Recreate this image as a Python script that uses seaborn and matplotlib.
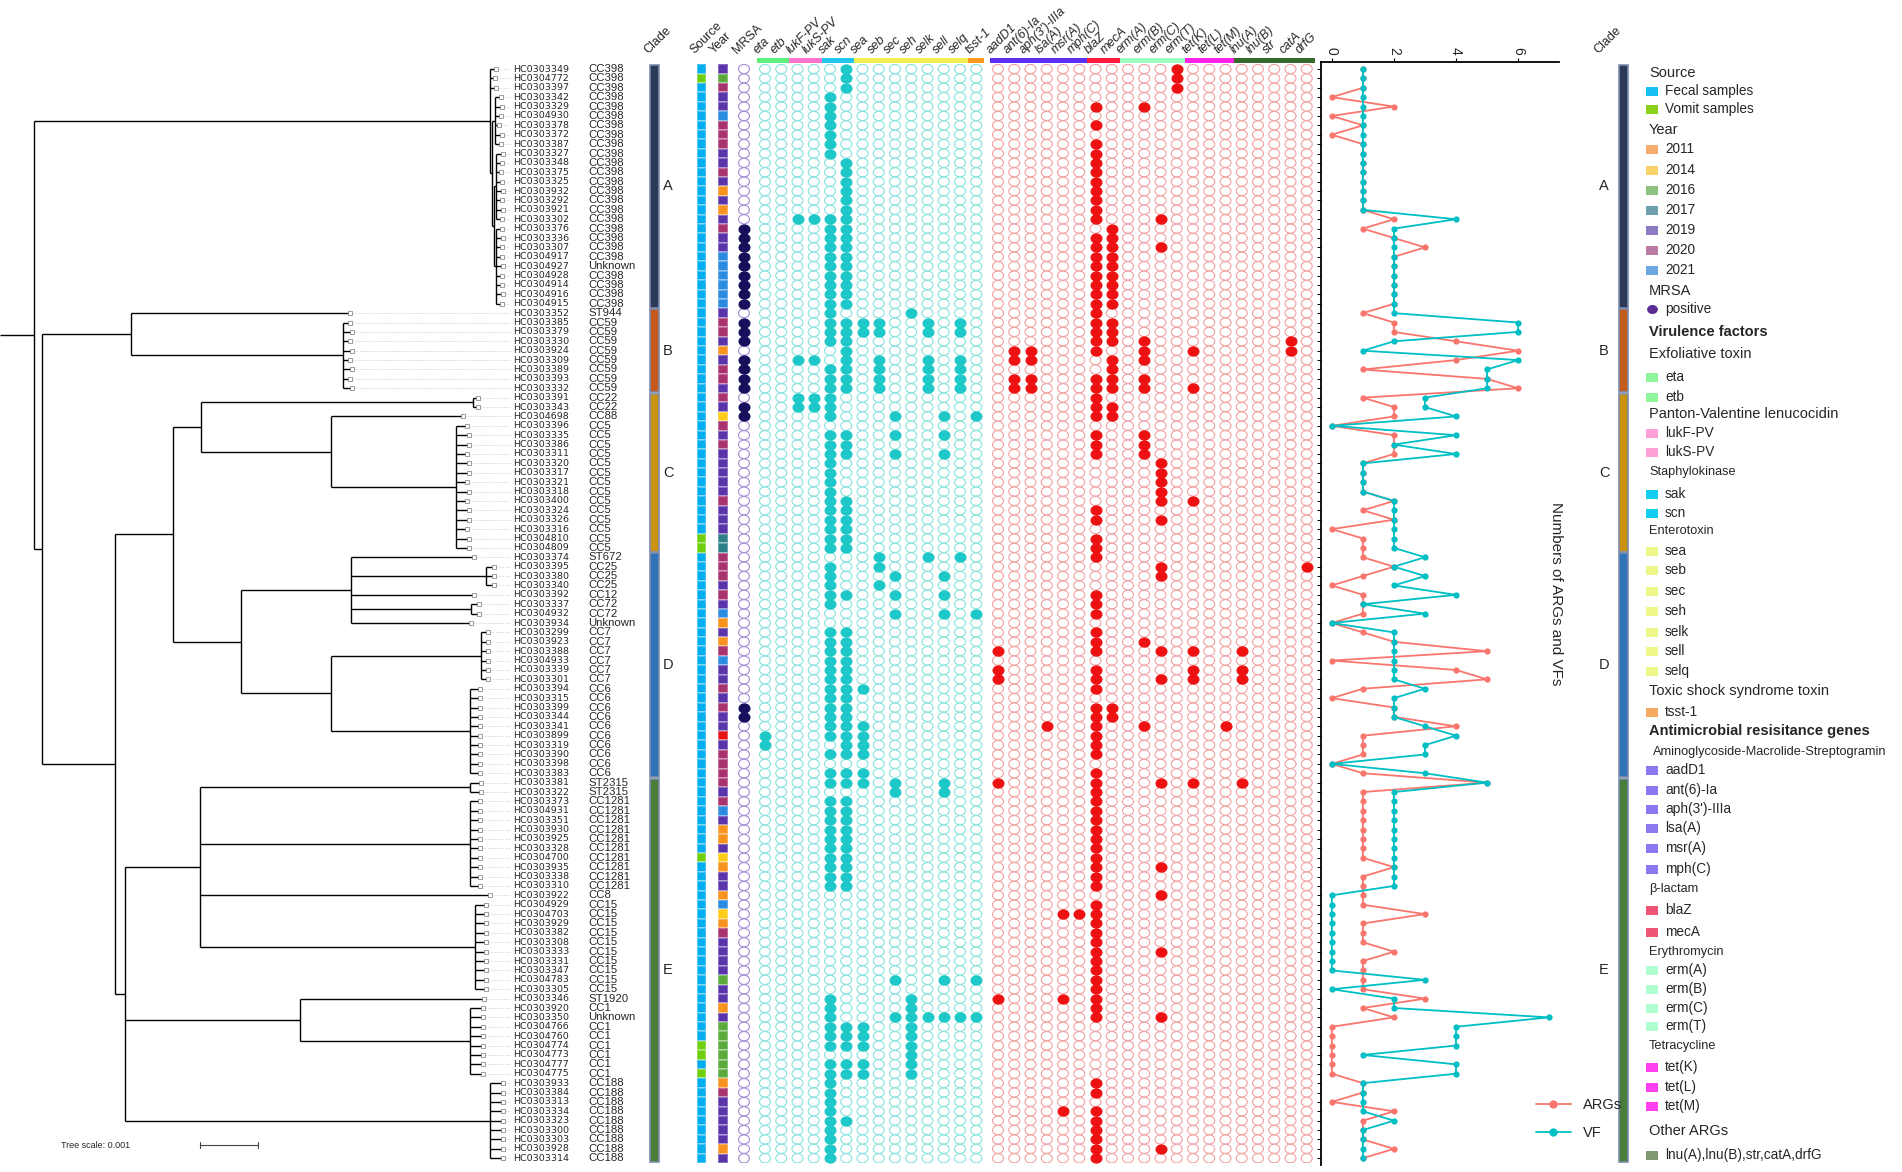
import numpy as np
import pandas as pd
import matplotlib
matplotlib.use("Agg")
import matplotlib.pyplot as plt
from matplotlib.colors import ListedColormap
from matplotlib.lines import Line2D
from matplotlib.path import Path
import seaborn as sns

# ---------------- data ----------------
sample_ids = [
    "HC0303349", "HC0304772", "HC0303397", "HC0303342", "HC0303329", "HC0304930", "HC0303378", "HC0303372", "HC0303387", "HC0303327",
    "HC0303348", "HC0303375", "HC0303325", "HC0303932", "HC0303292", "HC0303921", "HC0303302", "HC0303376", "HC0303336", "HC0303307",
    "HC0304917", "HC0304927", "HC0304928", "HC0304914", "HC0304916", "HC0304915", "HC0303352", "HC0303385", "HC0303379", "HC0303330",
    "HC0303924", "HC0303309", "HC0303389", "HC0303393", "HC0303332", "HC0303391", "HC0303343", "HC0304698", "HC0303396", "HC0303335",
    "HC0303386", "HC0303311", "HC0303320", "HC0303317", "HC0303321", "HC0303318", "HC0303400", "HC0303324", "HC0303326", "HC0303316",
    "HC0304810", "HC0304809", "HC0303374", "HC0303395", "HC0303380", "HC0303340", "HC0303392", "HC0303337", "HC0304932", "HC0303934",
    "HC0303299", "HC0303923", "HC0303388", "HC0304933", "HC0303339", "HC0303301", "HC0303394", "HC0303315", "HC0303399", "HC0303344",
    "HC0303341", "HC0303899", "HC0303319", "HC0303390", "HC0303398", "HC0303383", "HC0303381", "HC0303322", "HC0303373", "HC0304931",
    "HC0303351", "HC0303930", "HC0303925", "HC0303328", "HC0304700", "HC0303935", "HC0303338", "HC0303310", "HC0303922", "HC0304929",
    "HC0304703", "HC0303929", "HC0303382", "HC0303308", "HC0303333", "HC0303331", "HC0303347", "HC0304783", "HC0303305", "HC0303346",
    "HC0303920", "HC0303350", "HC0304766", "HC0304760", "HC0304774", "HC0304773", "HC0304777", "HC0304775", "HC0303933", "HC0303384",
    "HC0303313", "HC0303334", "HC0303323", "HC0303300", "HC0303303", "HC0303928", "HC0303314",
]

st_types = [
    "CC398", "CC398", "CC398", "CC398", "CC398", "CC398", "CC398", "CC398", "CC398", "CC398",
    "CC398", "CC398", "CC398", "CC398", "CC398", "CC398", "CC398", "CC398", "CC398", "CC398",
    "CC398", "Unknown", "CC398", "CC398", "CC398", "CC398", "ST944", "CC59", "CC59", "CC59",
    "CC59", "CC59", "CC59", "CC59", "CC59", "CC22", "CC22", "CC88", "CC5", "CC5",
    "CC5", "CC5", "CC5", "CC5", "CC5", "CC5", "CC5", "CC5", "CC5", "CC5",
    "CC5", "CC5", "ST672", "CC25", "CC25", "CC25", "CC12", "CC72", "CC72", "Unknown",
    "CC7", "CC7", "CC7", "CC7", "CC7", "CC7", "CC6", "CC6", "CC6", "CC6",
    "CC6", "CC6", "CC6", "CC6", "CC6", "CC6", "ST2315", "ST2315", "CC1281", "CC1281",
    "CC1281", "CC1281", "CC1281", "CC1281", "CC1281", "CC1281", "CC1281", "CC1281", "CC8", "CC15",
    "CC15", "CC15", "CC15", "CC15", "CC15", "CC15", "CC15", "CC15", "CC15", "ST1920",
    "CC1", "Unknown", "CC1", "CC1", "CC1", "CC1", "CC1", "CC1", "CC188", "CC188",
    "CC188", "CC188", "CC188", "CC188", "CC188", "CC188", "CC188",
]

clade_names = ["A", "B", "C", "D", "E"]
clade_sizes = [26, 9, 17, 24, 41]

# F = fecal, V = vomit
source_code = ("FVFFFFFFFF" "FFFFFFFFFF" "FFFFFFFFFF" "FFFFFFFFFF" "FFFFFFFFFF"
               "VVFFFFFFFF" "FFFFFFFFFF" "FFFFFFFFFF" "FFFFVFFFFF" "FFFFFFFFFF"
               "FFFFVVFVFF" "FFFFFFF")

# 0 = cell drawn in red, not listed in the legend
years = [
    2019, 2016, 2020, 2019, 2019, 2021, 2020, 2020, 2020, 2019,
    2019, 2020, 2019, 2011, 2019, 2011, 2019, 2020, 2019, 2019,
    2021, 2021, 2021, 2021, 2021, 2021, 2019, 2020, 2020, 2019,
    2011, 2019, 2020, 2020, 2019, 2020, 2019, 2014, 2020, 2019,
    2020, 2019, 2019, 2019, 2019, 2019, 2020, 2019, 2019, 2019,
    2017, 2017, 2020, 2020, 2020, 2019, 2020, 2019, 2021, 2011,
    2019, 2011, 2020, 2021, 2019, 2019, 2020, 2019, 2020, 2019,
    2019, 0, 2019, 2020, 2020, 2020, 2020, 2019, 2020, 2021,
    2019, 2011, 2011, 2019, 2014, 2011, 2019, 2019, 2011, 2021,
    2014, 2011, 2020, 2019, 2019, 2019, 2019, 2016, 2019, 2019,
    2011, 2019, 2016, 2016, 2016, 2016, 2016, 2016, 2011, 2020,
    2019, 2019, 2019, 2019, 2019, 2011, 2019,
]

mrsa_code = ("0000000000" "0000000111" "1111110111" "0111101100" "0000000000"
             "0000000000" "0000000011" "0000000000" "0000000000" "0000000000"
             "0000000000" "0000000")

vf_genes = ["eta", "etb", "lukF-PV", "lukS-PV", "sak", "scn", "sea", "seb",
            "sec", "seh", "selk", "sell", "selq", "tsst-1"]
arg_genes = ["aadD1", "ant(6)-Ia", "aph(3')-IIIa", "lsa(A)", "msr(A)", "mph(C)",
             "blaZ", "mecA", "erm(A)", "erm(B)", "erm(C)", "erm(T)", "tet(K)",
             "tet(L)", "tet(M)", "lnu(A)", "lnu(B)", "str", "catA", "drfG"]

vf_hits = [
    "scn", "scn", "scn", "sak", "sak", "sak", "sak", "sak", "sak", "sak",
    "scn", "scn", "scn", "scn", "scn", "scn", "lukF-PV lukS-PV sak scn", "sak scn", "sak scn", "sak scn",
    "sak scn", "sak scn", "sak scn", "sak scn", "sak scn", "sak scn", "sak seh",
    "sak scn sea seb selk selq", "sak scn sea seb selk selq", "sak scn",
    "scn", "lukF-PV lukS-PV scn seb selk selq", "sak scn seb selk selq", "sak scn seb selk selq",
    "sak scn seb selk selq", "lukF-PV lukS-PV sak", "lukF-PV lukS-PV sak", "sak sec sell tsst-1", "",
    "sak scn sec sell",
    "sak scn", "sak scn sec sell", "sak", "sak", "sak", "sak", "sak scn", "sak scn", "sak scn", "sak scn",
    "sak scn", "sak scn", "seb selk selq", "sak seb", "sak sec sell", "sak seb", "sak scn sec sell", "sak",
    "sec sell tsst-1", "",
    "sak scn", "sak scn", "sak scn", "sak scn", "sak scn", "sak scn", "sak scn sea", "sak scn", "sak scn", "sak scn",
    "sak scn sea", "eta sak scn sea", "eta scn sea", "sak scn sea", "", "sak scn sea", "sak scn sea sec sell",
    "sec sell", "sak scn", "sak scn",
    "sak scn", "sak scn", "sak scn", "sak scn", "sak scn", "sak scn", "sak scn", "sak scn", "", "",
    "", "", "", "", "", "", "", "sec sell tsst-1", "", "sak seh",
    "sak seh", "sak sec seh selk sell selq tsst-1", "sak scn sea seh", "sak scn sea seh", "sak scn sea seh",
    "seh", "sak scn sea seh", "sak scn sea seh", "sak", "sak",
    "sak", "sak", "sak scn", "sak", "sak", "sak", "sak",
]

arg_hits = [
    "erm(T)", "erm(T)", "erm(T)", "", "blaZ erm(B)", "", "blaZ", "", "blaZ", "blaZ",
    "blaZ", "blaZ", "blaZ", "blaZ", "blaZ", "blaZ", "blaZ erm(C)", "mecA", "blaZ mecA", "blaZ mecA erm(C)",
    "blaZ mecA", "blaZ mecA", "blaZ mecA", "blaZ mecA", "blaZ mecA", "blaZ mecA", "blaZ", "blaZ mecA",
    "blaZ mecA", "blaZ mecA erm(B) catA",
    "ant(6)-Ia aph(3')-IIIa blaZ erm(B) tet(K) catA", "ant(6)-Ia aph(3')-IIIa mecA erm(B)", "mecA",
    "ant(6)-Ia aph(3')-IIIa blaZ mecA erm(B)", "ant(6)-Ia aph(3')-IIIa blaZ mecA erm(B) tet(K)",
    "blaZ", "blaZ mecA", "blaZ mecA", "", "blaZ erm(B)",
    "blaZ erm(B)", "blaZ erm(B)", "erm(C)", "erm(C)", "erm(C)", "erm(C)", "erm(C) tet(K)", "blaZ",
    "blaZ erm(C)", "",
    "blaZ", "blaZ", "blaZ", "erm(C) drfG", "erm(C)", "", "blaZ", "blaZ", "blaZ", "",
    "blaZ", "blaZ erm(B)", "aadD1 blaZ erm(C) tet(K) lnu(A)", "", "aadD1 blaZ tet(K) lnu(A)",
    "aadD1 blaZ erm(C) tet(K) lnu(A)", "blaZ", "", "blaZ mecA", "blaZ mecA",
    "lsa(A) blaZ erm(B) tet(M)", "blaZ", "blaZ", "blaZ", "", "blaZ", "aadD1 blaZ erm(C) tet(K) lnu(A)",
    "blaZ", "blaZ", "blaZ",
    "blaZ", "blaZ", "blaZ", "blaZ", "blaZ", "blaZ erm(C)", "blaZ", "blaZ", "erm(C)", "blaZ",
    "msr(A) mph(C) blaZ", "blaZ", "blaZ", "blaZ", "blaZ erm(C)", "blaZ", "blaZ", "blaZ", "blaZ",
    "aadD1 msr(A) blaZ",
    "blaZ", "blaZ erm(C)", "", "", "", "", "", "", "blaZ", "blaZ",
    "", "msr(A) blaZ", "blaZ", "blaZ", "blaZ", "blaZ erm(C)", "blaZ",
]

arg_counts = [1, 1, 1, 0, 2, 0, 1, 0, 1, 1, 1, 1, 1, 1, 1, 1, 2, 1, 2, 3,
              2, 2, 2, 2, 2, 2, 1, 2, 2, 4, 6, 4, 1, 5, 6, 1, 2, 2, 0, 2,
              2, 2, 1, 1, 1, 1, 2, 1, 2, 0, 1, 1, 1, 2, 1, 0, 1, 1, 1, 0,
              1, 2, 5, 0, 4, 5, 1, 0, 2, 2, 4, 1, 1, 1, 0, 1, 5, 1, 1, 1,
              1, 1, 1, 1, 1, 2, 1, 1, 1, 1, 3, 1, 1, 1, 2, 1, 1, 1, 1, 3,
              1, 2, 0, 0, 0, 0, 0, 0, 1, 1, 0, 2, 1, 1, 1, 2, 1]
vf_counts = [1, 1, 1, 1, 1, 1, 1, 1, 1, 1, 1, 1, 1, 1, 1, 1, 4, 2, 2, 2,
             2, 2, 2, 2, 2, 2, 2, 6, 6, 2, 1, 6, 5, 5, 5, 3, 3, 4, 0, 4,
             2, 4, 1, 1, 1, 1, 2, 2, 2, 2, 2, 2, 3, 2, 3, 2, 4, 1, 3, 0,
             2, 2, 2, 2, 2, 2, 3, 2, 2, 2, 3, 4, 3, 3, 0, 3, 5, 2, 2, 2,
             2, 2, 2, 2, 2, 2, 2, 2, 0, 0, 0, 0, 0, 0, 0, 0, 0, 3, 0, 2,
             2, 7, 4, 4, 4, 1, 4, 4, 1, 1, 1, 1, 2, 1, 1, 1, 1]

# phylogeny, branch lengths in units of 0.001
tree_newick = (
    "((HC0303349:0.12,HC0304772:0.1,HC0303397:0.12,((HC0303342:0.1,HC0303329:0.12,HC0304930:0.1,"
    "HC0303378:0.08,HC0303372:0.12,HC0303387:0.1):0.04,((HC0303327:0.12,HC0303348:0.1,HC0303375:0.08,"
    "HC0303325:0.1,HC0303932:0.12,HC0303292:0.1,HC0303921:0.12,HC0303302:0.1):0.04,"
    "(HC0303376:0.1,HC0303336:0.12,HC0303307:0.1,HC0304917:0.1,HC0304927:0.12,HC0304928:0.1,"
    "HC0304914:0.1,HC0304916:0.12,HC0304915:0.1):0.04):0.03):0.05):7.85,"
    "((HC0303352:3.79,(HC0303385:0.12,HC0303379:0.15,HC0303330:0.12,HC0303924:0.15,HC0303309:0.12,"
    "HC0303389:0.15,HC0303393:0.12,HC0303332:0.15):3.67):1.52,"
    "((((HC0303391:0.09,HC0303343:0.09):4.69,(HC0304698:2.29,(HC0303396:0.2,HC0303335:0.22,"
    "HC0303386:0.22,HC0303311:0.2,HC0303320:0.22,HC0303317:0.22,HC0303321:0.2,HC0303318:0.22,"
    "HC0303400:0.2,HC0303324:0.22,HC0303326:0.22,HC0303316:0.2,HC0304810:0.22,HC0304809:0.22):2.16):2.24):0.47,"
    "((HC0303374:2.12,(HC0303395:0.14,HC0303380:0.14,HC0303340:0.14):2.33,HC0303392:2.12,"
    "(HC0303337:0.14,HC0304932:0.14):2.07,HC0303934:2.07):1.9,((HC0303299:0.12,HC0303923:0.12,"
    "HC0303388:0.12,HC0304933:0.12,HC0303339:0.12,HC0303301:0.12):2.59,(HC0303394:0.17,"
    "HC0303315:0.17,HC0303399:0.17,HC0303344:0.17,HC0303341:0.17,HC0303899:0.17,HC0303319:0.17,"
    "HC0303390:0.17,HC0303398:0.17,HC0303383:0.17):2.41):1.55):1.16):1.0,"
    "(((HC0303381:0.19,HC0303322:0.19):4.66,(HC0303373:0.17,HC0304931:0.17,HC0303351:0.17,"
    "HC0303930:0.17,HC0303925:0.17,HC0303328:0.17,HC0304700:0.17,HC0303935:0.17,HC0303338:0.17,"
    "HC0303310:0.17):4.66,HC0303922:5.0,(HC0304929:0.19,HC0304703:0.19,HC0303929:0.19,"
    "HC0303382:0.19,HC0303308:0.19,HC0303333:0.19,HC0303331:0.19,HC0303347:0.19,HC0304783:0.19,"
    "HC0303305:0.19):4.74):1.29,(HC0303346:3.16,(HC0303920:0.22,HC0303350:0.22,HC0304766:0.22,"
    "HC0304760:0.22,HC0304774:0.22,HC0304773:0.22,HC0304777:0.22,HC0304775:0.22):2.93):3.02,"
    "(HC0303933:0.22,HC0303384:0.22,HC0303313:0.22,HC0303334:0.22,HC0303323:0.22,HC0303300:0.22,"
    "HC0303303:0.22,HC0303928:0.22,HC0303314:0.22):6.29):0.17):1.26):0.14):0.59;"
)

# ---------------- colours ----------------
clade_colors = ["#2c3a58", "#c45a1c", "#c9930f", "#2f74b8", "#4b7d3a"]
source_levels = ["F", "V"]
source_labels = ["Fecal samples", "Vomit samples"]
source_colors = ["#00adef", "#6fcf0d"]
source_legend_colors = ["#17c0f0", "#8ad21c"]
year_levels = [2011, 2014, 2016, 2017, 2019, 2020, 2021, 0]
year_colors = ["#f7931e", "#ffcc1a", "#5aab3c", "#2f7f8a", "#5a35aa", "#a8336f", "#2b8be0", "#e51616"]
year_legend_colors = ["#f5ad6e", "#f8d36a", "#8fc27f", "#6d9fac", "#8d7bc4", "#bb7aa2", "#6ea8e0"]

vf_groups = [("Exfoliative toxin", ["eta", "etb"], "#5ef07a", "#8ef59a"),
             ("Panton-Valentine lenucocidin", ["lukF-PV", "lukS-PV"], "#ff77cc", "#ff9fd8"),
             ("Staphylokinase", ["sak", "scn"], "#1ec8f0", "#14ccf0"),
             ("Enterotoxin", ["sea", "seb", "sec", "seh", "selk", "sell", "selq"], "#f0f050", "#eef78a"),
             ("Toxic shock syndrome toxin", ["tsst-1"], "#ff9a1e", "#f4a860")]
arg_groups = [("Aminoglycoside-Macrolide-Streptogramin",
               ["aadD1", "ant(6)-Ia", "aph(3')-IIIa", "lsa(A)", "msr(A)", "mph(C)"], "#5a2ff0", "#8c78f0"),
              ("β-lactam", ["blaZ", "mecA"], "#ff1a40", "#ef5675"),
              ("Erythromycin", ["erm(A)", "erm(B)", "erm(C)", "erm(T)"], "#9dffc0", "#b0ffd0"),
              ("Tetracycline", ["tet(K)", "tet(L)", "tet(M)"], "#ff22e6", "#ff40f0"),
              ("Other ARGs", ["lnu(A)", "lnu(B)", "str", "catA", "drfG"], "#356b2b", "#7f9a70")]

dot_style = {
    ("MRSA", True): dict(facecolor="#170f5c", edgecolor="#170f5c"),
    ("MRSA", False): dict(facecolor="none", edgecolor="#a58cd6"),
    ("VF", True): dict(facecolor="#1ec8c8", edgecolor="#1ec8c8"),
    ("VF", False): dict(facecolor="none", edgecolor="#86e2de"),
    ("ARG", True): dict(facecolor="#ee1111", edgecolor="#ee1111"),
    ("ARG", False): dict(facecolor="none", edgecolor="#f2a0a0"),
}
line_palette = {"ARGs": "#F8766D", "VF": "#00BFC4"}

# ---------------- layout (pixels of the 1902x1172 figure) ----------------
W, H = 1902, 1172
ROW0, ROW_H = 69.0, 9.39
n = len(sample_ids)
TOP = ROW0 - ROW_H / 2
BOT = ROW0 + (n - 0.5) * ROW_H
PX_PER_UNIT = 58.0           # 0.001 of tree scale
MRSA_X, VF_X0, ARG_X0, COL_DX = 744, 765, 998, 16.25

sns.set_theme(style="white")
plt.rcParams["font.family"] = ["Liberation Sans", "DejaVu Sans"]

fig = plt.figure(figsize=(W / 100, H / 100), dpi=100, facecolor="white")


def px_axes(x0, y0, x1, y1):
    return fig.add_axes([x0 / W, 1 - y1 / H, (x1 - x0) / W, (y1 - y0) / H])


page = px_axes(0, 0, W, H)
page.set_xlim(0, W)
page.set_ylim(H, 0)
page.axis("off")

canvas = px_axes(0, TOP, W, BOT)
canvas.axis("off")

# ---------------- tree ----------------
def parse_newick(s):
    pos = 0

    def node():
        nonlocal pos
        children = []
        if s[pos] == "(":
            pos += 1
            children.append(node())
            while s[pos] == ",":
                pos += 1
                children.append(node())
            pos += 1
        start = pos
        while s[pos] not in ":,);":
            pos += 1
        name = s[start:pos]
        length = 0.0
        if s[pos] == ":":
            pos += 1
            start = pos
            while s[pos] not in ",);":
                pos += 1
            length = float(s[start:pos])
        return {"name": name, "length": length, "children": children}

    return node()


row_of = {sid: i for i, sid in enumerate(sample_ids)}
h_segs, v_segs, tips = [], [], []


def layout(nd, x_parent):
    x = x_parent + nd["length"] * PX_PER_UNIT
    if nd["children"]:
        ys = [layout(c, x) for c in nd["children"]]
        y = (ys[0] + ys[-1]) / 2
        v_segs.append((x, ys[0], ys[-1]))
    else:
        y = row_of[nd["name"]]
        tips.append((x, y))
    h_segs.append((y, x_parent, x))
    return y


layout(parse_newick(tree_newick), 0.0)
hs = np.array(h_segs)
vs = np.array(v_segs)
tp = np.array(tips)
canvas.hlines(hs[:, 0], hs[:, 1], hs[:, 2], color="black", lw=1.0)
canvas.vlines(vs[:, 0], vs[:, 1], vs[:, 2], color="black", lw=1.0)
canvas.hlines(tp[:, 1], tp[:, 0] + 2, 510, color="#c8c8c8", lw=0.6, linestyles=(0, (1.5, 2)))
canvas.scatter(tp[:, 0], tp[:, 1], marker="s", s=5, facecolor="white", edgecolor="#777777", lw=0.5, zorder=3)

# tree scale
page.plot([200, 200 + PX_PER_UNIT], [1145, 1145], color="#444444", lw=0.8)
page.plot([200, 200], [1142, 1148], color="#444444", lw=0.8)
page.plot([200 + PX_PER_UNIT] * 2, [1142, 1148], color="#444444", lw=0.8)
page.text(61, 1145, "Tree scale: 0.001", fontsize=6.5, va="center", ha="left")

# ---------------- labels ----------------
for i, (sid, st) in enumerate(zip(sample_ids, st_types)):
    canvas.text(513, i, sid, fontsize=6.8, va="center", ha="left", family="DejaVu Sans")
    canvas.text(588, i, st, fontsize=8.2, va="center", ha="left")

# ---------------- clade bars ----------------
starts = np.cumsum([0] + clade_sizes[:-1])
for bx, lx in [(654.5, 668), (1623, 1604)]:
    canvas.bar(x=[bx] * 5, height=np.array(clade_sizes) - 0.16, bottom=starts - 0.42, width=9,
               color=clade_colors, edgecolor="#7d8cac", linewidth=1.2, align="center")
    for name, s0, sz in zip(clade_names, starts, clade_sizes):
        canvas.text(lx, s0 + (sz - 1) / 2, name, fontsize=10.5, ha="center", va="center")

# ---------------- source / year columns ----------------
src_ax = px_axes(697, TOP, 706, BOT)
src_idx = np.array([[source_levels.index(c)] for c in source_code])
sns.heatmap(src_idx, cmap=ListedColormap(source_colors), vmin=-0.5, vmax=len(source_levels) - 0.5,
            cbar=False, xticklabels=False, yticklabels=False, linewidths=0.3,
            linecolor=(1, 1, 1, 0.3), ax=src_ax)
yr_ax = px_axes(718, TOP, 728, BOT)
yr_idx = np.array([[year_levels.index(y)] for y in years])
sns.heatmap(yr_idx, cmap=ListedColormap(year_colors), vmin=-0.5, vmax=len(year_levels) - 0.5,
            cbar=False, xticklabels=False, yticklabels=False, linewidths=0.3,
            linecolor=(1, 1, 1, 0.3), ax=yr_ax)

# ---------------- dot matrix ----------------
col_x = {"MRSA": MRSA_X}
for i, g in enumerate(vf_genes):
    col_x[g] = VF_X0 + COL_DX * i
for j, g in enumerate(arg_genes):
    col_x[g] = ARG_X0 + COL_DX * j

records = []
for r in range(n):
    records.append((r, "MRSA", "MRSA", mrsa_code[r] == "1"))
    vf_set = set(vf_hits[r].split())
    arg_set = set(arg_hits[r].split())
    for g in vf_genes:
        records.append((r, g, "VF", g in vf_set))
    for g in arg_genes:
        records.append((r, g, "ARG", g in arg_set))
dots = pd.DataFrame(records, columns=["row", "gene", "kind", "hit"])
dots["x"] = dots["gene"].map(col_x)

circ = Path.unit_circle()
ellipse = Path(circ.vertices * np.array([1.0, 0.84]), circ.codes)
for (kind, hit), sub in dots.groupby(["kind", "hit"]):
    sns.scatterplot(data=sub, x="x", y="row", marker=ellipse, s=62, linewidth=0.8,
                    legend=False, ax=canvas, zorder=3 if hit else 2, **dot_style[(kind, hit)])

canvas.set_xlim(0, W)
canvas.set_ylim(n - 0.5, -0.5)

# group colour bars over the columns
for groups in (vf_groups, arg_groups):
    for _, genes, bar_color, _ in groups:
        x0 = col_x[genes[0]] - COL_DX / 2
        x1 = col_x[genes[-1]] + COL_DX / 2
        page.barh(y=60.5, width=x1 - x0, left=x0, height=5, color=bar_color, linewidth=0)

# column headers
HEAD_Y = 56
for label, x in [("Clade", 650), ("Source", 697), ("Year", 716), ("MRSA", 739), ("Clade", 1600)]:
    page.text(x, HEAD_Y, label, rotation=45, rotation_mode="anchor", ha="left", va="bottom", fontsize=9)
for g in vf_genes + arg_genes:
    page.text(col_x[g] - 5, HEAD_Y, g, rotation=45, rotation_mode="anchor", ha="left", va="bottom",
              fontsize=9, style="italic")

# ---------------- line chart ----------------
LINE_TOP, LINE_BOT = 62, 1165
lax = px_axes(1321, LINE_TOP, 1559, LINE_BOT)
lax.set_facecolor("none")
line_df = pd.DataFrame({
    "row": list(range(n)) * 2,
    "count": arg_counts + vf_counts,
    "type": ["ARGs"] * n + ["VF"] * n,
})
sns.lineplot(data=line_df, x="count", y="row", hue="type", hue_order=["ARGs", "VF"], orient="y",
             estimator=None, palette=line_palette, marker="o", markersize=4.5, markeredgewidth=0,
             linewidth=1.3, legend=False, ax=lax)
lax.set_ylim((LINE_BOT - ROW0) / ROW_H, (LINE_TOP - ROW0) / ROW_H)
lax.set_xlim(-0.35, 7.32)
lax.xaxis.tick_top()
lax.set_xticks([0, 2, 4, 6])
lax.set_xticklabels(["0", "2", "4", "6"], rotation=-90, fontsize=10)
lax.set_yticks(range(n))
lax.set_yticklabels([])
lax.tick_params(axis="y", length=3, width=0.7, direction="out", left=True, color="black")
lax.tick_params(axis="x", length=3, width=0.8, pad=2, top=True, color="black")
lax.set_xlabel("")
lax.set_ylabel("")
for side in ["right", "bottom"]:
    lax.spines[side].set_visible(False)
for side in ["left", "top"]:
    lax.spines[side].set_color("black")
    lax.spines[side].set_linewidth(1.3)
page.text(1556, 594, "Numbers of ARGs and VFs", rotation=-90, fontsize=11, ha="center", va="center")

handles = [Line2D([], [], color=line_palette[k], marker="o", markersize=6, lw=1.3, markeredgewidth=0)
           for k in ["ARGs", "VF"]]
fig.legend(handles, ["ARGs", "VF"], loc="upper left", bbox_to_anchor=(1530 / W, 1 - 1092 / H),
           frameon=False, fontsize=10.5, handlelength=2.4, labelspacing=1.0, borderaxespad=0)

# ---------------- legend (right) ----------------
PATCH_X, TEXT_X, TITLE_X = 1646, 1665, 1649
legend_rows = [("title", "Source", None, 73)]
legend_rows += [("patch", lab, col, y) for lab, col, y in zip(source_labels, source_legend_colors, [91, 109])]
legend_rows += [("title", "Year", None, 130)]
legend_rows += [("patch", str(yv), col, y) for yv, col, y in
                zip(year_levels[:-1], year_legend_colors, [149, 170, 190, 210, 230, 250, 270])]
legend_rows += [("title", "MRSA", None, 291), ("dot", "positive", "#5b2c91", 309),
                ("bold", "Virulence factors", None, 332)]
vf_y = [(354, [377, 397]), (414, [433, 452]), (472, [494, 513]),
        (531, [551, 570, 591, 611, 632, 651, 671]), (691, [712])]
for (gname, genes, _, lcol), (ty, gys) in zip(vf_groups, vf_y):
    kind = "sub" if gname in ("Staphylokinase", "Enterotoxin") else "title"
    legend_rows.append((kind, gname, None, ty))
    legend_rows += [("patch", g, lcol, y) for g, y in zip(genes, gys)]
legend_rows.append(("bold", "Antimicrobial resisitance genes", None, 731))
arg_y = [(752, [770, 790, 809, 828, 848, 869]), (889, [910, 932]), (952, [970, 989, 1008, 1026]),
         (1046, [1067, 1087, 1106]), (1131, [1155])]
for (gname, genes, _, lcol), (ty, gys) in zip(arg_groups, arg_y):
    kind = "title" if gname == "Other ARGs" else "sub"
    legend_rows.append((kind, gname, None, ty))
    if gname == "Other ARGs":
        legend_rows.append(("patch", ",".join(genes), lcol, gys[0]))
    else:
        legend_rows += [("patch", g, lcol, y) for g, y in zip(genes, gys)]

for kind, label, color, y in legend_rows:
    if kind == "patch":
        page.barh(y=y, width=12, left=PATCH_X, height=9, color=color, linewidth=0)
        page.text(TEXT_X, y, label, fontsize=9.8, va="center", ha="left")
    elif kind == "dot":
        page.scatter([PATCH_X + 6], [y], s=60, marker=ellipse, color=color, linewidth=0)
        page.text(TEXT_X, y, label, fontsize=9.8, va="center", ha="left")
    elif kind == "bold":
        page.text(TITLE_X, y, label, fontsize=10.5, fontweight="bold", va="center", ha="left")
    elif kind == "sub":
        x = TITLE_X + 4 if label.startswith("Amino") else TITLE_X
        page.text(x, y, label, fontsize=9.2, va="center", ha="left")
    else:
        page.text(TITLE_X, y, label, fontsize=10.5, va="center", ha="left")

fig.savefig("out.png", dpi=100, facecolor="white")
